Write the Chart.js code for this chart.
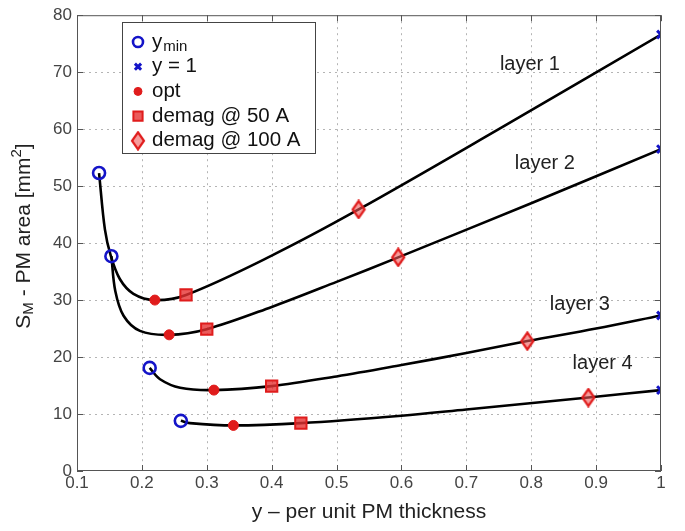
<!DOCTYPE html>
<html>
<head>
<meta charset="utf-8">
<script src="https://cdn.jsdelivr.net/npm/chart.js@4.4.0/dist/chart.umd.min.js"></script>
<style>
  html, body { margin: 0; padding: 0; background: #fff; }
  #wrap { width: 685px; height: 531px; }
</style>
</head>
<body>
<div id="wrap"><canvas id="pmChart" width="685" height="531"></canvas></div>
<script>
// curves (x = per unit PM thickness, y = PM area mm2)
const layer1X = [0.134, 0.143, 0.152, 0.166, 0.187, 0.220, 0.268, 0.400, 0.534, 0.750, 1.000];
const layer1Y = [52.3, 42.4, 37.8, 33.7, 31.1, 30.0, 30.9, 37.8, 45.9, 60.0, 76.6];
const layer2X = [0.153, 0.159, 0.172, 0.197, 0.242, 0.300, 0.400, 0.500, 0.595, 0.800, 1.000];
const layer2Y = [37.7, 31.6, 27.2, 24.6, 23.9, 24.9, 28.8, 33.2, 37.5, 47.0, 56.5];
const layer3X = [0.212, 0.228, 0.259, 0.311, 0.400, 0.500, 0.600, 0.700, 0.794, 0.900, 1.000];
const layer3Y = [18.1, 16.1, 14.6, 14.2, 14.9, 16.6, 18.6, 20.7, 22.8, 25.0, 27.3];
const layer4X = [0.260, 0.274, 0.341, 0.445, 0.600, 0.700, 0.888, 1.000];
const layer4Y = [8.8, 8.4, 8.0, 8.4, 9.7, 10.8, 12.9, 14.2];

// markers (layer 1..4)
const yminX = [0.134, 0.153, 0.212, 0.260];
const yminY = [52.3, 37.7, 18.1, 8.8];
const yOneX = [1, 1, 1, 1];
const yOneY = [76.6, 56.5, 27.3, 14.2];
const optX = [0.220, 0.242, 0.311, 0.341];
const optY = [30.0, 23.9, 14.2, 8.0];
const demag50X = [0.268, 0.300, 0.400, 0.445];
const demag50Y = [30.9, 24.9, 14.9, 8.4];
const demag100X = [0.534, 0.595, 0.794, 0.888];
const demag100Y = [45.9, 37.5, 22.8, 12.9];

const layerNames = ['layer 1', 'layer 2', 'layer 3', 'layer 4'];
const legendNames = ['y', 'y = 1', 'opt', 'demag @ 50 A', 'demag @ 100 A'];
const xTicks = [0.1, 0.2, 0.3, 0.4, 0.5, 0.6, 0.7, 0.8, 0.9, 1];
const yTicks = [0, 10, 20, 30, 40, 50, 60, 70, 80];

// where the layer names sit, in data units
const nameAnchorX = [0.798, 0.821, 0.875, 0.910];
const nameAnchorY = [71.4, 53.9, 29.3, 18.9];

const pts = (xs, ys) => xs.map((x, i) => ({ x: x, y: ys[i] }));

const BLUE = '#1414c8';
const RED = '#e01c1c';
const FONT = '"Liberation Sans", Arial, Helvetica, sans-serif';

// tall diamond like matlab's 'd' marker
const diamond = document.createElement('canvas');
diamond.width = 16; diamond.height = 20;
(function () {
    const c = diamond.getContext('2d');
    c.beginPath();
    c.moveTo(8, 1.5); c.lineTo(14, 10); c.lineTo(8, 18.5); c.lineTo(2, 10); c.closePath();
    c.fillStyle = 'rgba(240,90,90,0.6)';
    c.fill();
    c.lineWidth = 2.2;
    c.strokeStyle = RED;
    c.stroke();
})();

function curve(label, xs, ys) {
    return {
        label: label,
        data: pts(xs, ys),
        showLine: true,
        borderColor: '#000',
        borderWidth: 2.6,
        pointRadius: 0,
        tension: 0.35,
        order: 2
    };
}

const markerSets = [
    { label: 'ymin', data: pts(yminX, yminY), pointStyle: 'circle', pointRadius: 6, borderWidth: 2.6,
      borderColor: BLUE, backgroundColor: 'rgba(0,0,0,0)' },
    { label: 'y = 1', data: pts(yOneX, yOneY), pointStyle: 'crossRot', pointRadius: 5.5, borderWidth: 3,
      borderColor: BLUE, backgroundColor: BLUE },
    { label: 'opt', data: pts(optX, optY), pointStyle: 'circle', pointRadius: 5, borderWidth: 1,
      borderColor: RED, backgroundColor: RED },
    { label: 'demag @ 50 A', data: pts(demag50X, demag50Y), pointStyle: 'rect', pointRadius: 8, borderWidth: 2,
      borderColor: RED, backgroundColor: 'rgba(230,50,50,0.8)' },
    { label: 'demag @ 100 A', data: pts(demag100X, demag100Y), pointStyle: diamond, pointRadius: 8,
      borderColor: RED, backgroundColor: RED }
].map(d => Object.assign(d, { showLine: false, order: 1 }));

const extras = {
    id: 'extras',
    beforeDatasetsDraw(chart) {
        // dotted matlab grid
        const ctx = chart.ctx;
        const a = chart.chartArea;
        const xs = chart.scales.x, ys = chart.scales.y;
        ctx.save();
        ctx.strokeStyle = '#b4b4b4';
        ctx.lineWidth = 1;
        ctx.setLineDash([2, 4]);
        ctx.beginPath();
        xTicks.slice(1, -1).forEach(v => {
            const px = Math.round(xs.getPixelForValue(v)) + 0.5;
            ctx.moveTo(px, a.top); ctx.lineTo(px, a.bottom);
        });
        yTicks.slice(1, -1).forEach(v => {
            const py = Math.round(ys.getPixelForValue(v)) + 0.5;
            ctx.moveTo(a.left, py); ctx.lineTo(a.right, py);
        });
        ctx.stroke();
        ctx.restore();
    },
    afterDatasetsDraw(chart) {
        const ctx = chart.ctx;
        const a = chart.chartArea;
        const xs = chart.scales.x, ys = chart.scales.y;
        ctx.save();

        // box + inward ticks
        ctx.strokeStyle = '#555';
        ctx.lineWidth = 1;
        ctx.strokeRect(a.left + 0.5, a.top + 0.5, a.right - a.left - 1, a.bottom - a.top - 1);
        ctx.beginPath();
        xTicks.forEach(v => {
            const px = Math.round(xs.getPixelForValue(v)) + 0.5;
            ctx.moveTo(px, a.bottom); ctx.lineTo(px, a.bottom - 6);
            ctx.moveTo(px, a.top); ctx.lineTo(px, a.top + 6);
        });
        yTicks.forEach(v => {
            const py = Math.round(ys.getPixelForValue(v)) + 0.5;
            ctx.moveTo(a.left, py); ctx.lineTo(a.left + 6, py);
            ctx.moveTo(a.right, py); ctx.lineTo(a.right - 6, py);
        });
        ctx.stroke();

        // layer names
        ctx.fillStyle = '#222';
        ctx.font = '20px ' + FONT;
        ctx.textAlign = 'center';
        ctx.textBaseline = 'middle';
        layerNames.forEach((n, i) => {
            ctx.fillText(n, xs.getPixelForValue(nameAnchorX[i]), ys.getPixelForValue(nameAnchorY[i]));
        });

        // legend box
        const bx = 122, by = 22, bw = 193, bh = 131;
        ctx.fillStyle = '#fff';
        ctx.fillRect(bx, by, bw, bh);
        ctx.strokeStyle = '#444';
        ctx.strokeRect(bx + 0.5, by + 0.5, bw, bh);
        legendNames.forEach((n, i) => {
            const cy = by + 20 + i * 24.7;
            const d = markerSets[i];
            if (d.pointStyle === diamond) {
                ctx.drawImage(diamond, 138 - diamond.width / 2, cy - diamond.height / 2);
            } else {
                ctx.fillStyle = d.backgroundColor;
                ctx.strokeStyle = d.borderColor;
                ctx.lineWidth = d.borderWidth;
                const r = d.pointStyle === 'rect' ? 6.5 : (i === 0 ? 5 : d.pointRadius * 0.8);
                Chart.helpers.drawPoint(ctx, { pointStyle: d.pointStyle, radius: r, rotation: 0, borderWidth: d.borderWidth }, 138, cy);
            }
            ctx.fillStyle = '#111';
            ctx.font = '20.5px ' + FONT;
            ctx.textAlign = 'left';
            ctx.textBaseline = 'middle';
            ctx.fillText(n, 152, cy);
            if (i === 0) {
                const w = ctx.measureText(n).width;
                ctx.font = '15px ' + FONT;
                ctx.fillText('min', 152 + w + 1, cy + 5);
            }
        });

        // axis titles
        ctx.fillStyle = '#222';
        ctx.font = '21px ' + FONT;
        ctx.textAlign = 'center';
        ctx.textBaseline = 'middle';
        ctx.fillText('y \u2013 per unit PM thickness', (a.left + a.right) / 2, 512);

        ctx.translate(24, 236);
        ctx.rotate(-Math.PI / 2);
        const parts = [['S', 21, 0], ['M', 15, 5], [' - PM area [mm', 21, 0], ['2', 15, -7], [']', 21, 0]];
        let total = 0;
        parts.forEach(p => { ctx.font = p[1] + 'px ' + FONT; total += ctx.measureText(p[0]).width; });
        let cx = -total / 2;
        ctx.textAlign = 'left';
        parts.forEach(p => {
            ctx.font = p[1] + 'px ' + FONT;
            ctx.fillText(p[0], cx, p[2]);
            cx += ctx.measureText(p[0]).width;
        });
        ctx.restore();
    }
};

new Chart(document.getElementById('pmChart').getContext('2d'), {
    type: 'scatter',
    data: {
        datasets: [
            curve('layer 1', layer1X, layer1Y),
            curve('layer 2', layer2X, layer2Y),
            curve('layer 3', layer3X, layer3Y),
            curve('layer 4', layer4X, layer4Y)
        ].concat(markerSets)
    },
    options: {
        responsive: false,
        animation: false,
        devicePixelRatio: 1,
        layout: { padding: { top: 11, right: 24, left: 0, bottom: 0 } },
        plugins: { legend: { display: false }, tooltip: { enabled: false } },
        scales: {
            x: {
                type: 'linear', min: 0.1, max: 1,
                afterBuildTicks: s => { s.ticks = xTicks.map(v => ({ value: v })); },
                afterFit: s => { s.height = 60; },
                ticks: {
                    callback: v => (v === 1 ? '1' : v.toFixed(1)),
                    font: { size: 17, family: FONT }, color: '#444', padding: 2, maxRotation: 0
                },
                grid: { display: false, drawTicks: false },
                border: { display: false }
            },
            y: {
                min: 0, max: 80,
                afterBuildTicks: s => { s.ticks = yTicks.map(v => ({ value: v })); },
                afterFit: s => { s.width = 77; },
                ticks: { font: { size: 17, family: FONT }, color: '#444', padding: 5 },
                grid: { display: false, drawTicks: false },
                border: { display: false }
            }
        }
    },
    plugins: [extras]
});
</script>
</body>
</html>
